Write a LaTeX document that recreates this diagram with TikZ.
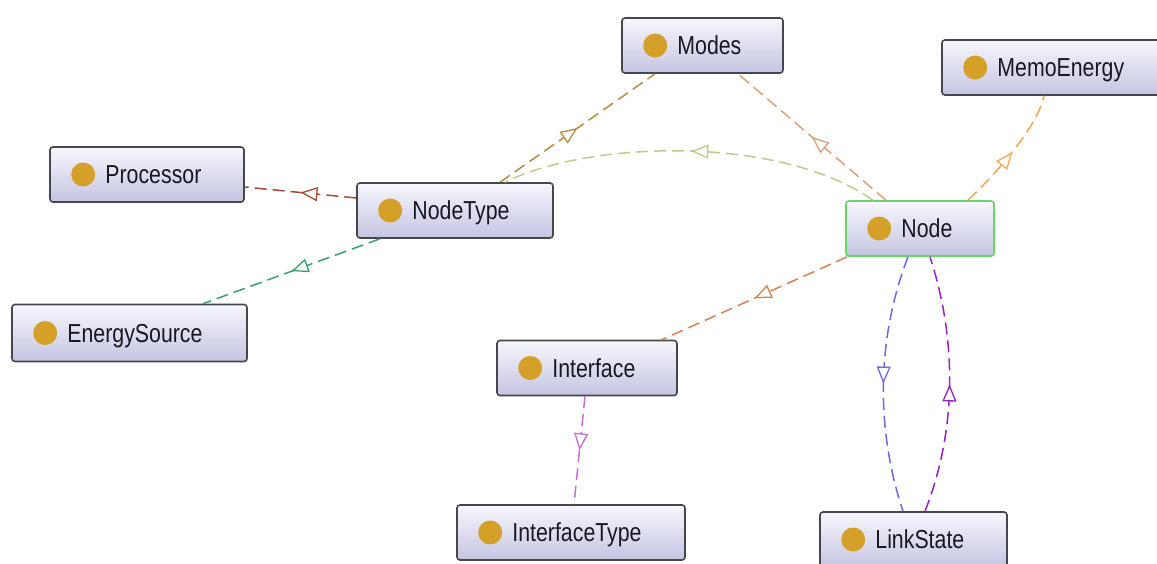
\documentclass[tikz,border=0pt]{standalone}
\usepackage{fontspec}
\setmainfont{Liberation Sans}[FakeStretch=0.82]
\usetikzlibrary{arrows.meta,decorations.markings}
\definecolor{boxborder}{RGB}{70,70,78}
\definecolor{boxtop}{RGB}{247,247,253}
\definecolor{boxbot}{RGB}{196,196,226}
\definecolor{dotc}{RGB}{212,160,40}
\definecolor{txt}{RGB}{24,24,34}
\definecolor{selgreen}{RGB}{100,215,100}
\definecolor{cA}{RGB}{180,140,70}
\definecolor{cB}{RGB}{220,160,120}
\definecolor{cC}{RGB}{192,202,140}
\definecolor{cD}{RGB}{165,75,55}
\definecolor{cE}{RGB}{60,160,110}
\definecolor{cF}{RGB}{242,168,80}
\definecolor{cG}{RGB}{215,130,85}
\definecolor{cH}{RGB}{195,110,215}
\definecolor{cI}{RGB}{110,105,225}
\definecolor{cJ}{RGB}{150,35,190}
\tikzset{
  cls/.style={rectangle, rounded corners=3pt, draw=boxborder, line width=1.6pt,
    top color=boxtop, bottom color=boxbot, minimum height=55pt, inner sep=0pt},
  lbl/.style={anchor=base west, inner sep=0pt, text=txt, font=\fontsize{26pt}{30pt}\selectfont},
  dotstyle/.style={fill=dotc},
  rel/.style={draw=#1, dash pattern=on 12pt off 6pt, line width=1.5pt,
    postaction={decorate, decoration={markings, mark=at position 0.5 with
      {\arrow{Triangle[length=17pt,width=14pt,color=#1,fill=white,line width=1.3pt]}}}}}
}
\newcommand{\classlabel}[2]{%
  \fill[dotstyle] ([xshift=34pt]#1.west) circle (12pt);
  \node[lbl] (#1-t) at ([xshift=56pt,yshift=-9pt]#1.west) {#2};
}
\begin{document}
\begin{tikzpicture}[x=1pt,y=-1pt]
\useasboundingbox (0,0) rectangle (1157,563);
\fill[white] (0,0) rectangle (1157,563);

% boxes
\node[cls, minimum width=161pt] (modes) at (702.5,45.5) {};
\node[cls, minimum width=225pt] (memo) at (1054.5,67.5) {};
\node[cls, minimum width=194pt] (processor) at (147,174.5) {};
\node[cls, minimum width=196pt] (nodetype) at (455,210.5) {};
\node[cls, minimum width=148pt, draw=selgreen] (nd) at (920,228.5) {};
\node[cls, minimum width=235pt, minimum height=57pt] (energy) at (129.5,333) {};
\node[cls, minimum width=180pt] (interface) at (587,368) {};
\node[cls, minimum width=228pt] (itype) at (571,532.5) {};
\node[cls, minimum width=187pt] (link) at (913.5,539.5) {};

\classlabel{modes}{Modes}
\classlabel{memo}{MemoEnergy}
\classlabel{processor}{Processor}
\classlabel{nodetype}{NodeType}
\classlabel{nd}{Node}
\classlabel{energy}{EnergySource}
\classlabel{interface}{Interface}
\classlabel{itype}{InterfaceType}
\classlabel{link}{LinkState}

% connectors
\draw[rel=cA] ([xshift=45pt]nodetype.north) -- ([xshift=-47.5pt]modes.south);
\draw[rel=cB] ([xshift=-34pt]nd.north) -- ([xshift=35.5pt]modes.south);
\draw[rel=cC] ([xshift=-47pt]nd.north) .. controls (780,135) and (590,140) .. ([xshift=50pt]nodetype.north);
\draw[rel=cD] ([yshift=12.5pt]nodetype.west) -- ([yshift=-12.5pt]processor.east);
\draw[rel=cE] ([xshift=-75pt]nodetype.south) -- ([xshift=73.5pt]energy.north);
\draw[rel=cF] ([xshift=48pt]nd.north) .. controls (1000,170) and (1038,125) .. ([xshift=-10.5pt]memo.south);
\draw[rel=cG] ([xshift=2pt]nd.south west) -- ([xshift=-16pt]interface.north east);
\draw[rel=cH] ([xshift=-2pt]interface.south) -- ([xshift=3pt]itype.north);
\draw[rel=cI] ([xshift=-12pt]nd.south) .. controls (876,340) and (876,430) .. ([xshift=-10.5pt]link.north);
\draw[rel=cJ] ([xshift=11.5pt]link.north) .. controls (957,430) and (957,340) .. ([xshift=10pt]nd.south);
\end{tikzpicture}
\end{document}
